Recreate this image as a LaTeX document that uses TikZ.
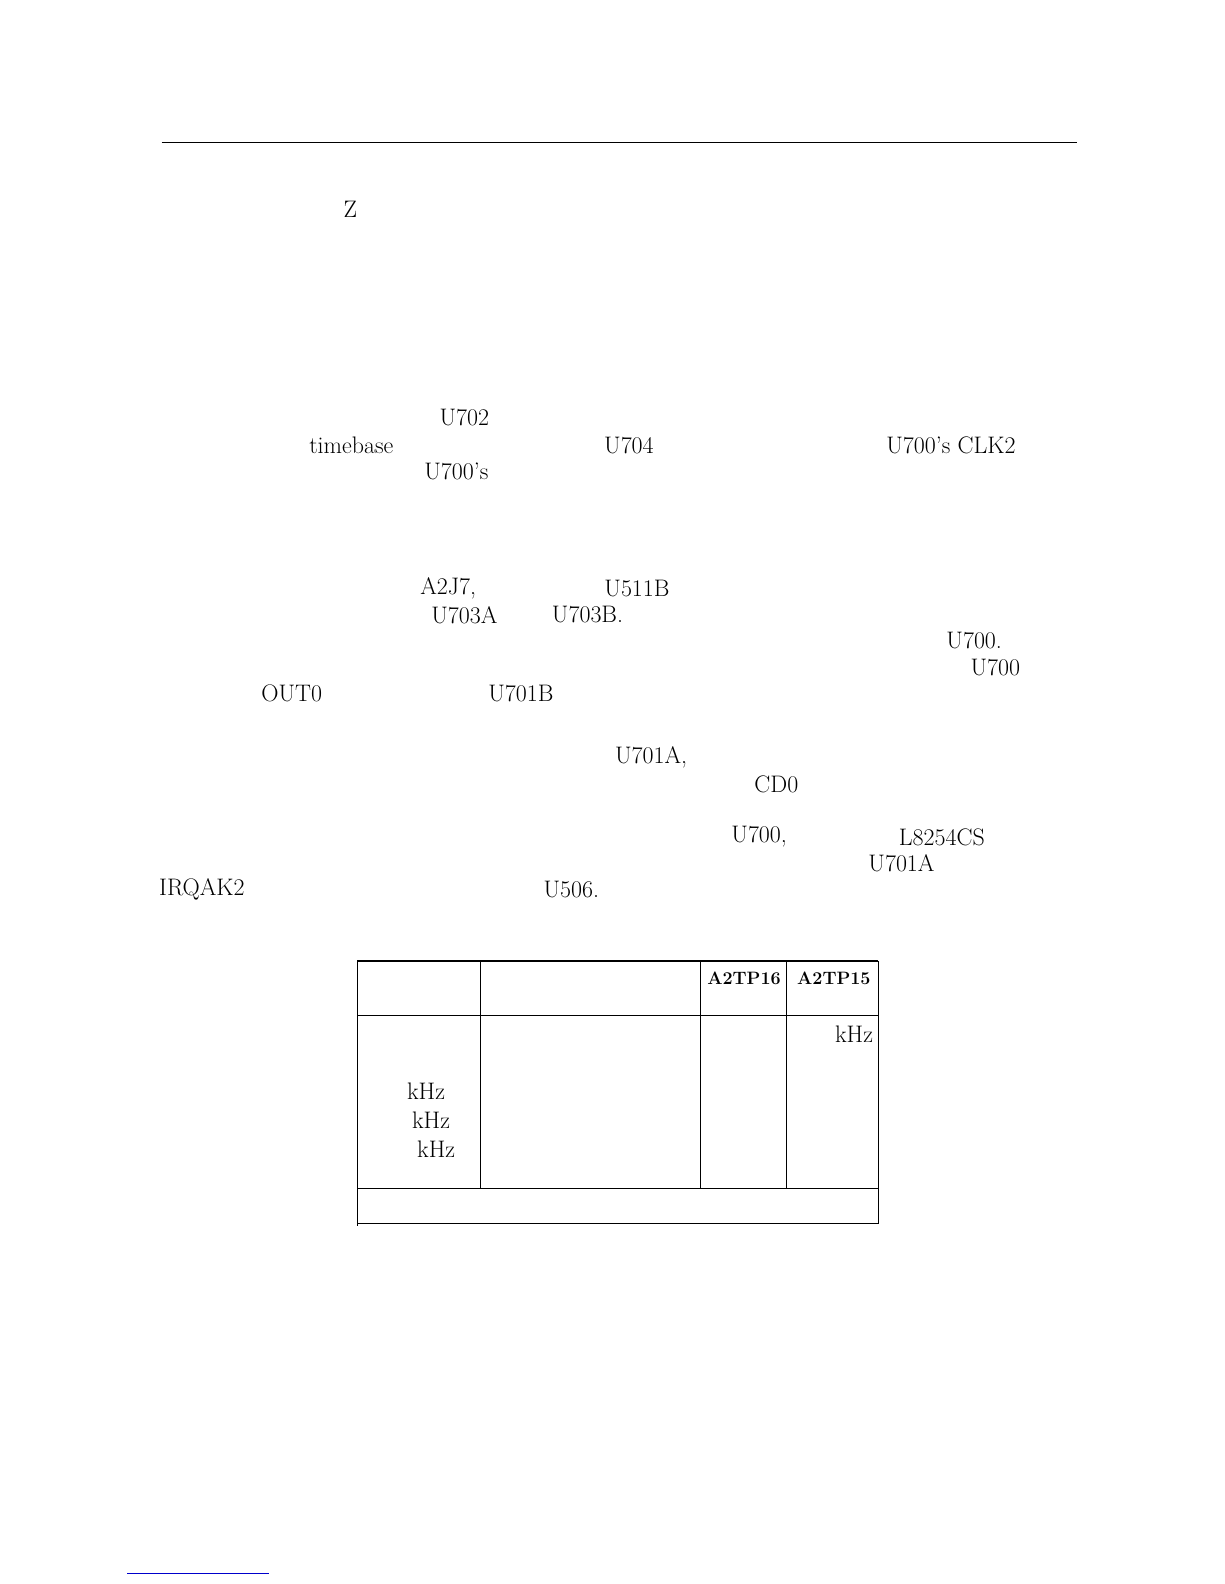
\documentclass[tikz,border=0pt]{standalone}
\begin{document}
\begin{tikzpicture}[x=1bp,y=-1bp,
  t/.style={font=\fontsize{24}{27}\selectfont,inner sep=0pt},
  tb/.style={font=\fontsize{18}{21}\selectfont\bfseries,inner sep=0pt},
  rule/.style={line width=1.2pt}]
\useasboundingbox (0,0) rectangle (1224,1584);
\begin{scope}[x=1.0095bp,y=-1.0095bp]
\draw[line width=1pt] (160,141) -- (1067,141);
\node[t] (z) at (347,207) {Z};
\node[t] (a1) at (460,414) {U702};
\node[t] (a2) at (348,441) {timebase};
\node[t] (a3) at (623,441) {U704};
\node[t] (a4) at (942,441) {U700's CLK2};
\node[t] (a5) at (452,467) {U700's};
\node[t] (b1) at (444,583) {A2J7,};
\node[t] (b2) at (631,583) {U511B};
\node[t] (b3) at (460,609) {U703A};
\node[t] (b4) at (582,609) {U703B.};
\node[t] (b5) at (965,634) {U700.};
\node[t] (b6) at (986,661) {U700};
\node[t] (b7) at (289,687) {OUT0};
\node[t] (b8) at (516,687) {U701B};
\node[t] (c1) at (645,750) {U701A,};
\node[t] (c2) at (769,777) {CD0};
\node[t] (d1) at (752,829) {U700,};
\node[t] (d2) at (933,829) {L8254CS};
\node[t] (d3) at (893,855) {U701A};
\node[t] (d4) at (200,881) {IRQAK2};
\node[t] (d5) at (566,881) {U506.};
% table
\draw[rule] (354,952) -- (870,952);
\draw[rule] (354,952) -- (354,1214);
\draw[rule] (870,952) -- (870,1212);
\draw[rule] (476,952) -- (476,1177);
\draw[rule] (694,952) -- (694,1177);
\draw[rule] (779,952) -- (779,1177);
\draw[rule] (476,1006) -- (870,1006);
\draw[rule] (354,1006) -- (476,1006);
\draw[rule] (354,1177) -- (870,1177);
\draw[rule] (354,1212) -- (870,1212);
\node[tb] (h1) at (737,969) {A2TP16};
\node[tb] (h2) at (826,969) {A2TP15};
\node[t] (k1) at (846,1024) {kHz};
\node[t] (k2) at (422,1081) {kHz};
\node[t] (k3) at (427,1110) {kHz};
\node[t] (k4) at (432,1138) {kHz};
\draw[blue!80!black,line width=1pt] (126,1559) -- (266,1559);
\end{scope}
\end{tikzpicture}
\end{document}
